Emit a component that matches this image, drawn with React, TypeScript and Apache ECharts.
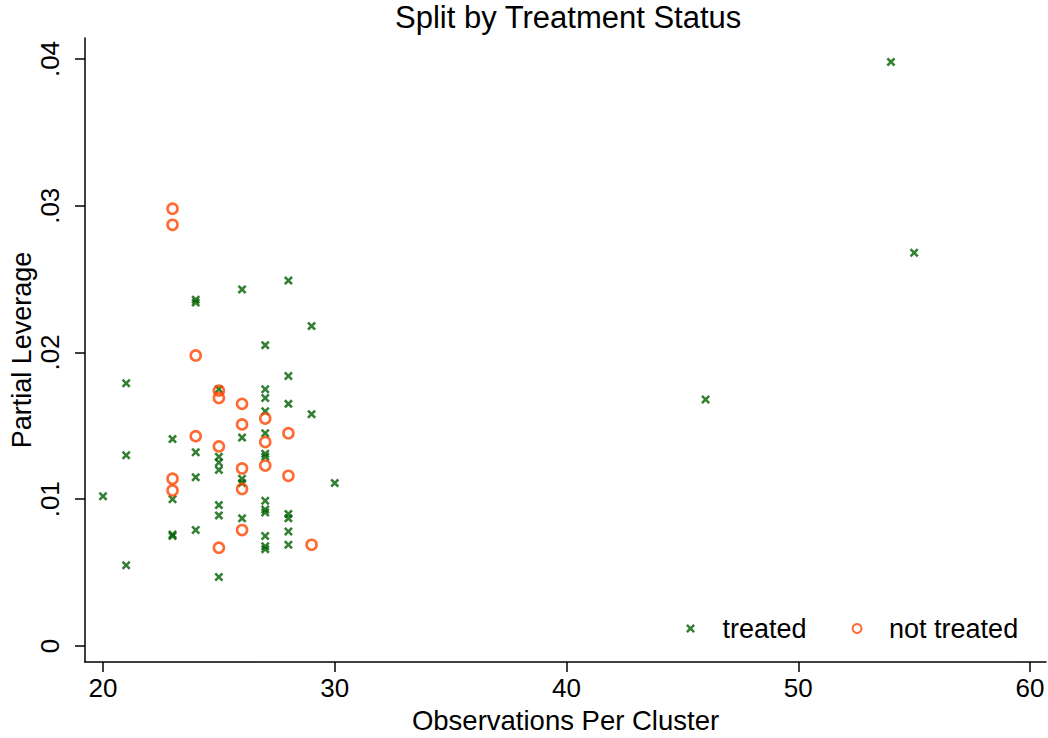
import React, { useEffect, useRef } from "react";
import * as echarts from "echarts";

const titleText = "Split by Treatment Status";
const xAxisTitle = "Observations Per Cluster";
const yAxisTitle = "Partial Leverage";
const seriesNames = ["treated", "not treated"];

const xTicks = [20, 30, 40, 50, 60];
const yTicks = [0, 0.01, 0.02, 0.03, 0.04];

const treatedObs = [
  20,
  21, 21, 21,
  23, 23, 23, 23,
  24, 24, 24, 24, 24,
  25, 25, 25, 25, 25, 25, 25,
  26, 26, 26, 26, 26,
  27, 27, 27, 27, 27, 27, 27, 27, 27, 27, 27, 27, 27,
  28, 28, 28, 28, 28, 28, 28,
  29, 29,
  30,
  46,
  54,
  55,
];
const treatedLev = [
  0.0102,
  0.0179, 0.013, 0.0055,
  0.0141, 0.01, 0.0076, 0.0075,
  0.0236, 0.0234, 0.0132, 0.0115, 0.0079,
  0.0175, 0.0129, 0.0125, 0.012, 0.0096, 0.0089, 0.0047,
  0.0243, 0.0142, 0.0114, 0.0111, 0.0087,
  0.0205, 0.0175, 0.0169, 0.016, 0.0145, 0.0131, 0.0129, 0.0099, 0.0093, 0.0091, 0.0075, 0.0068, 0.0066,
  0.0249, 0.0184, 0.0165, 0.009, 0.0087, 0.0078, 0.0069,
  0.0218, 0.0158,
  0.0111,
  0.0168,
  0.0398,
  0.0268,
];

const notTreatedObs = [
  23, 23, 23, 23,
  24, 24,
  25, 25, 25, 25,
  26, 26, 26, 26, 26,
  27, 27, 27,
  28, 28,
  29,
];
const notTreatedLev = [
  0.0298, 0.0287, 0.0114, 0.0106,
  0.0198, 0.0143,
  0.0174, 0.0169, 0.0136, 0.0067,
  0.0165, 0.0151, 0.0121, 0.0107, 0.0079,
  0.0155, 0.0139, 0.0123,
  0.0145, 0.0116,
  0.0069,
];

const GREEN = "#005f00";
const ORANGE = "#ff4500";
const FONT = "Arial, 'Liberation Sans', Helvetica, sans-serif";
const X_MARK =
  "path://M0,2 L2,0 L5,3 L8,0 L10,2 L7,5 L10,8 L8,10 L5,7 L2,10 L0,8 L3,5 Z";

export default function App() {
  const ref = useRef<HTMLDivElement>(null);

  useEffect(() => {
    if (!ref.current) return;
    const chart = echarts.init(ref.current, undefined, { renderer: "svg" });
    const treatedData = treatedObs.map((x, i) => [x, treatedLev[i]]);
    const notTreatedData = notTreatedObs.map((x, i) => [x, notTreatedLev[i]]);

    chart.setOption({
      animation: false,
      backgroundColor: "#ffffff",
      textStyle: { fontFamily: FONT },
      title: {
        text: titleText,
        left: 390,
        top: -3,
        textStyle: { fontFamily: FONT, fontSize: 31, fontWeight: "normal", color: "#000" },
      },
      legend: {
        left: 681,
        top: 610,
        itemWidth: 30,
        itemHeight: 9,
        itemGap: 45,
        symbolKeepAspect: true,
        textStyle: { fontFamily: FONT, fontSize: 27, color: "#000", padding: [0, 0, 0, 12] },
        data: seriesNames,
      },
      grid: { left: 85, right: 2, top: 38, bottom: 76, containLabel: false, outerBoundsMode: "none" },
      xAxis: {
        type: "value",
        min: 19.223,
        max: 60.69,
        name: xAxisTitle,
        nameLocation: "middle",
        nameGap: 44,
        nameTextStyle: { fontFamily: FONT, fontSize: 27.5, color: "#000" },
        splitLine: { show: false },
        axisLine: { show: true, onZero: false, lineStyle: { color: "#000", width: 1.5 } },
        axisTick: { show: true, length: 10, customValues: xTicks, lineStyle: { color: "#000", width: 1.5 } },
        axisLabel: {
          customValues: xTicks,
          margin: 13,
          fontFamily: FONT,
          fontSize: 26,
          color: "#000",
        },
      },
      yAxis: {
        type: "value",
        min: -0.00109,
        max: 0.04143,
        name: yAxisTitle,
        nameLocation: "middle",
        nameGap: 50,
        nameMoveOverlap: false,
        nameRotate: 90,
        nameTextStyle: { fontFamily: FONT, fontSize: 27, color: "#000" },
        splitLine: { show: false },
        axisLine: { show: true, onZero: false, lineStyle: { color: "#000", width: 1.5 } },
        axisTick: { show: true, length: 10, customValues: yTicks, lineStyle: { color: "#000", width: 1.5 } },
        axisLabel: {
          customValues: yTicks,
          rotate: 90,
          margin: 22,
          fontFamily: FONT,
          fontSize: 26,
          color: "#000",
          formatter: (v: number) => (v === 0 ? "0" : String(v).replace(/^0/, "")),
        },
      },
      series: [
        {
          name: seriesNames[0],
          type: "scatter",
          symbol: X_MARK,
          symbolSize: 9,
          itemStyle: { color: GREEN },
          data: treatedData,
          z: 2,
        },
        {
          name: seriesNames[1],
          type: "scatter",
          symbol: "circle",
          symbolSize: 10,
          itemStyle: { color: "rgba(0,0,0,0)", borderColor: ORANGE, borderWidth: 2.6 },
          data: notTreatedData,
          z: 3,
        },
      ],
    });

    return () => chart.dispose();
  }, []);

  return (
    <div
      ref={ref}
      style={{ position: "fixed", left: 0, top: 0, width: 1048, height: 738, background: "#fff" }}
    />
  );
}
